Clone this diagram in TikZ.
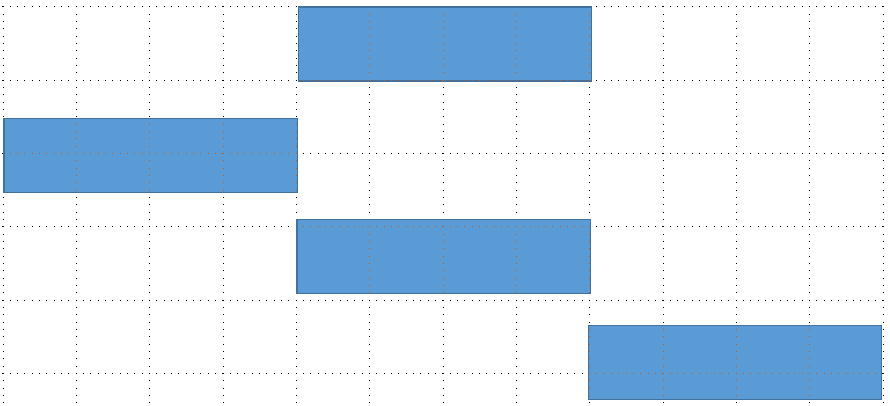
\documentclass[tikz,border=0pt]{standalone}
\usepackage{tikz}
\usetikzlibrary{positioning}

\definecolor{barblue}{HTML}{5B9BD5}
\definecolor{baredge}{HTML}{41719C}
\definecolor{gridorange}{HTML}{C55A11}

\begin{document}
\begin{tikzpicture}[
  x=1pt, y=-1pt,
  bar/.style={draw=baredge, fill=barblue, line width=0.8pt, inner sep=0pt, minimum width=293pt, minimum height=73.5pt},
  gridline/.style={line width=1pt, dash pattern=on 1pt off 6.333pt, dash phase=0.5pt}
]

\useasboundingbox (0,0) rectangle (890,405);
\clip (0,0) rectangle (890,405);

% background grid
\foreach \i in {-1,...,13}
  \draw[gridline, black] (3+73.333*\i,-66.6) -- (3+73.333*\i,480);
\foreach \j in {-1,...,6}
  \draw[gridline, black] (-70.33,6.7+73.333*\j) -- (956.3,6.7+73.333*\j);

% bars
\node[bar] (taskA) at (444.8,43.8) {};
\node[bar] (taskB) at (150.7,155.2) {};
\node[bar] (taskC) at (443.7,256.3) {};
\node[bar] (taskD) at (734.8,362.2) {};

% grid seen through the bars
\foreach \t in {taskA,taskB,taskC,taskD} {
  \begin{scope}
    \clip (\t.south west) rectangle (\t.north east);
    \foreach \i in {-1,...,13}
      \draw[gridline, gridorange] (3+73.333*\i,-66.6) -- (3+73.333*\i,480);
    \foreach \j in {-1,...,6}
      \draw[gridline, gridorange] (-70.33,6.7+73.333*\j) -- (956.3,6.7+73.333*\j);
  \end{scope}
  \draw[baredge, line width=0.8pt] (\t.south west) rectangle (\t.north east);
}

\end{tikzpicture}
\end{document}
